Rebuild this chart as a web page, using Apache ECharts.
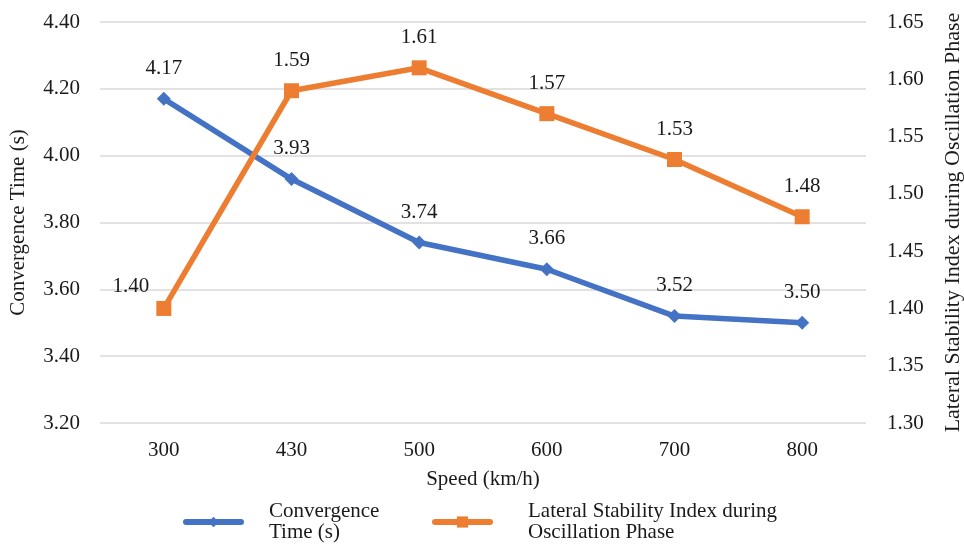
<!DOCTYPE html>
<html>
<head>
<meta charset="utf-8">
<script src="https://cdn.jsdelivr.net/npm/echarts@6/dist/echarts.min.js"></script>
<style>
  html, body { margin: 0; padding: 0; background: #fff; }
  #chart { width: 964px; height: 544px; }
</style>
</head>
<body>
<div id="chart"></div>
<script>
// Speeds on the category axis
const speeds = ['300', '430', '500', '600', '700', '800'];
// Convergence time (s), left axis
const convergenceTime = [4.17, 3.93, 3.74, 3.66, 3.52, 3.50];
// Lateral stability index during the oscillation phase, right axis
const stabilityIndex = [1.40, 1.59, 1.61, 1.57, 1.53, 1.48];

const FONT = "'Times New Roman', 'Liberation Serif', serif";
const TEXT = '#1a1a1a';
const BLUE = '#4472C4';
const ORANGE = '#ED7D31';

// Label nudge for the first stability point so it clears the rising line
const stabilityLabelNudge = { 0: [-33, 8] };

const fmt2 = v => Number(v).toFixed(2);

const chart = echarts.init(document.getElementById('chart'), null, { renderer: 'canvas' });

chart.setOption({
  animation: false,
  backgroundColor: '#fff',
  textStyle: { fontFamily: FONT, color: TEXT },
  grid: { left: 100, right: 98, top: 22, bottom: 121, containLabel: false, outerBoundsMode: 'none' },
  legend: [
    {
      data: ['Convergence\nTime (s)'],
      left: 183, top: 501, padding: 0,
      itemWidth: 55, itemHeight: 13,
      lineStyle: { width: 6, cap: 'round' },
      textStyle: { fontFamily: FONT, fontSize: 21, color: TEXT, lineHeight: 21, padding: [0, 0, 0, 23] }
    },
    {
      data: ['Lateral Stability Index during\nOscillation Phase'],
      left: 432, top: 501, padding: 0,
      itemWidth: 55, itemHeight: 14,
      lineStyle: { width: 6, cap: 'round' },
      textStyle: { fontFamily: FONT, fontSize: 21, color: TEXT, lineHeight: 21, padding: [0, 0, 0, 33] }
    }
  ],
  xAxis: {
    type: 'category',
    data: speeds,
    boundaryGap: true,
    name: 'Speed (km/h)',
    nameLocation: 'middle',
    nameGap: 46,
    nameTextStyle: { fontFamily: FONT, fontSize: 21, color: TEXT },
    axisLine: { show: false },
    axisTick: { show: false },
    axisLabel: { margin: 17, fontFamily: FONT, fontSize: 21, color: TEXT }
  },
  yAxis: [
    {
      type: 'value',
      min: 3.2, max: 4.4, interval: 0.2,
      position: 'left',
      name: 'Convergence Time (s)',
      nameLocation: 'middle',
      nameRotate: 90,
      nameGap: 71,
      nameTextStyle: { fontFamily: FONT, fontSize: 21, color: TEXT },
      axisLine: { show: false },
      axisTick: { show: false },
      axisLabel: { margin: 20, fontFamily: FONT, fontSize: 21, color: TEXT, formatter: fmt2 },
      splitLine: { show: true, lineStyle: { color: '#d9d9d9', width: 1.5 } }
    },
    {
      type: 'value',
      min: 1.3, max: 1.65, interval: 0.05,
      position: 'right',
      name: 'Lateral Stability Index during Oscillation Phase',
      nameLocation: 'middle',
      nameRotate: 90,
      nameGap: 76,
      nameTextStyle: { fontFamily: FONT, fontSize: 22, color: TEXT },
      axisLine: { show: false },
      axisTick: { show: false },
      axisLabel: { margin: 21, fontFamily: FONT, fontSize: 21, color: TEXT, formatter: fmt2 },
      splitLine: { show: false }
    }
  ],
  series: [
    {
      name: 'Convergence\nTime (s)',
      type: 'line',
      yAxisIndex: 0,
      data: convergenceTime,
      symbol: 'diamond',
      symbolSize: 14,
      lineStyle: { color: BLUE, width: 5.5 },
      itemStyle: { color: BLUE },
      label: {
        show: true, position: 'top', distance: 13,
        fontFamily: FONT, fontSize: 21, color: TEXT,
        formatter: p => fmt2(p.value)
      },
      z: 2
    },
    {
      name: 'Lateral Stability Index during\nOscillation Phase',
      type: 'line',
      yAxisIndex: 1,
      data: stabilityIndex.map((v, i) => stabilityLabelNudge[i]
        ? { value: v, label: { offset: stabilityLabelNudge[i] } }
        : v),
      symbol: 'rect',
      symbolSize: 15,
      lineStyle: { color: ORANGE, width: 5.5 },
      itemStyle: { color: ORANGE },
      label: {
        show: true, position: 'top', distance: 12,
        fontFamily: FONT, fontSize: 21, color: TEXT,
        formatter: p => fmt2(p.value)
      },
      z: 3
    }
  ]
});
</script>
</body>
</html>
